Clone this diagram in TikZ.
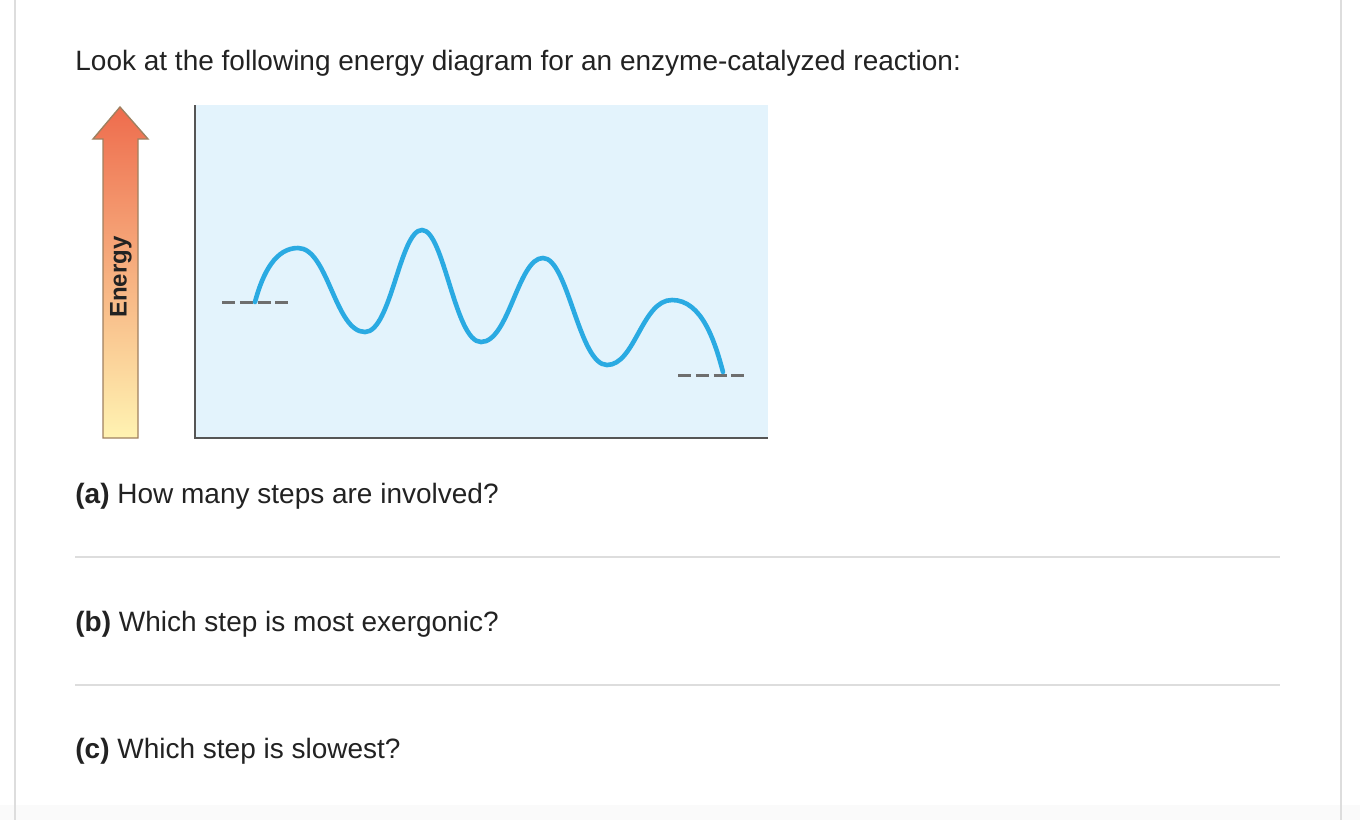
\documentclass[tikz,border=0pt]{standalone}
\usepackage{fontspec}
\setmainfont{Liberation Sans}
\definecolor{panelblue}{HTML}{E3F3FC}
\definecolor{curveblue}{HTML}{2AAAE2}
\definecolor{axisgray}{HTML}{555555}
\definecolor{dashgray}{HTML}{6E6E6E}
\definecolor{rulegray}{HTML}{DDDDDD}
\definecolor{textgray}{HTML}{222222}
\definecolor{hotorange}{HTML}{EE6C4D}
\definecolor{midorange}{HTML}{F8A978}
\definecolor{paleyellow}{HTML}{FFF3B2}
\tikzset{
    question/.style={anchor=base west, inner sep=0pt, text=textgray, font=\fontsize{14}{16}\selectfont},
    sepline/.style={rulegray, line width=1pt},
    levelline/.style={dashgray, line width=1.5pt, dash pattern=on 6.5pt off 2.4pt},
    barrier/.style={curveblue, line width=2.3pt, line cap=round}
}
\begin{document}
\begin{tikzpicture}[x=0.5pt, y=-0.5pt]
    \def\level#1#2#3{%
        \draw[levelline] (#1,#3) -- (#2,#3);
    }

    \useasboundingbox (0,0) rectangle (1360,820);
    \fill[black!2] (0,805) rectangle (1360,820);
    \draw[sepline] (15,0) -- (15,820);
    \draw[sepline] (1341,0) -- (1341,820);

    \node[question] (title) at (75,70) {Look at the following energy diagram for an enzyme-catalyzed reaction:};

    % energy arrow
    \path[draw=brown!50!gray, line width=0.7pt, top color=hotorange, middle color=midorange, bottom color=paleyellow]
        (103,438) -- (103,139) -- (93,139) -- (120,107) -- (148,139) -- (138,139) -- (138,438) -- cycle;
    \node[rotate=90, text=textgray, font=\fontsize{12}{14}\selectfont\bfseries] (energy) at (121,277) {Energy};

    % panel and axes
    \fill[panelblue] (195,105) rectangle (768,438);
    \draw[axisgray, line width=1pt] (195,105) -- (195,438) -- (768,438);

    \level{222}{288}{302}
    \level{678}{748}{375}

    \draw[barrier] (255,302)
        .. controls +(8,-30) and +(-22,0) .. (298,248)
        .. controls +(30,0) and +(-30,0) .. (365,332)
        .. controls +(26,0) and +(-22,0) .. (422,230)
        .. controls +(22,0) and +(-26,0) .. (481,342)
        .. controls +(28,0) and +(-25,0) .. (543,258)
        .. controls +(25,0) and +(-28,0) .. (607,365)
        .. controls +(28,0) and +(-30,0) .. (672,300)
        .. controls +(30,0) and +(-8,-30) .. (723,372);

    % questions
    \node[question] (qa) at (75,503) {\textbf{(a)} How many steps are involved?};
    \draw[sepline] (75,557) -- (1280,557);
    \node[question] (qb) at (75,631) {\textbf{(b)} Which step is most exergonic?};
    \draw[sepline] (75,685) -- (1280,685);
    \node[question] (qc) at (75,758) {\textbf{(c)} Which step is slowest?};
\end{tikzpicture}
\end{document}
